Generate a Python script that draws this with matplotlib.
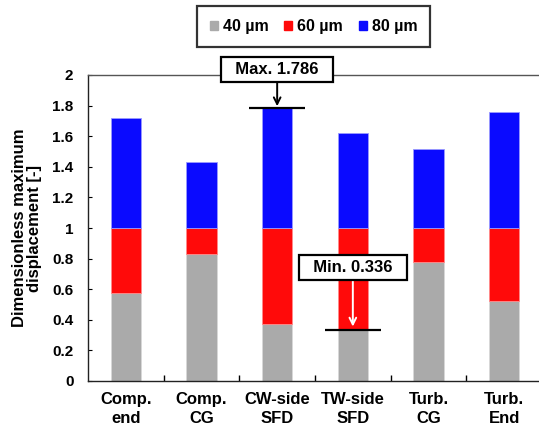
import matplotlib
matplotlib.use("Agg")
import matplotlib.pyplot as plt
from matplotlib.patches import Patch

plt.rcParams["font.family"] = ["Liberation Sans", "DejaVu Sans"]
plt.rcParams["font.weight"] = "bold"

categories = ["Comp.\nend", "Comp.\nCG", "CW-side\nSFD", "TW-side\nSFD", "Turb.\nCG", "Turb.\nEnd"]
d40 = [0.573, 0.828, 0.370, 0.336, 0.776, 0.523]   # gray part (40 um)
total = [1.717, 1.429, 1.786, 1.623, 1.514, 1.756]  # top of stack (80 um)
level60 = 1.0                                          # 60 um reference level
series_labels = ["40 µm", "60 µm", "80 µm"]
colors = ["#aaaaaa", "#ff0a0a", "#0a0aff"]
edges = ["#d8d8d8", "#ff8a8a", "#9a9aff"]

max_idx, max_val = 2, 1.786
min_idx, min_val = 3, 0.336

fig = plt.figure(figsize=(5.39, 4.29), dpi=100)
ax = fig.add_axes([88 / 539, 48 / 429, 454 / 539, 306 / 429])

x = list(range(len(categories)))
w = 0.4
red_h = [level60 - g for g in d40]
blue_h = [t - level60 for t in total]
ax.bar(x, d40, w, color=colors[0], edgecolor=edges[0], linewidth=0.6)
ax.bar(x, red_h, w, bottom=d40, color=colors[1], edgecolor=edges[1], linewidth=0.6)
ax.bar(x, blue_h, w, bottom=[level60] * len(x), color=colors[2], edgecolor=edges[2], linewidth=0.6)

ax.set_xlim(-0.5, len(categories) - 0.5)
ax.set_ylim(0, 2)
ax.set_yticks([0, 0.2, 0.4, 0.6, 0.8, 1, 1.2, 1.4, 1.6, 1.8, 2])
ax.set_yticklabels(["0", "0.2", "0.4", "0.6", "0.8", "1", "1.2", "1.4", "1.6", "1.8", "2"])
ax.set_xticks(x)
ax.set_xticklabels(categories, linespacing=1.3)
ax.set_xticks([i + 0.5 for i in x[:-1]], minor=True)
ax.tick_params(axis="x", which="major", length=0, pad=8, labelsize=12)
ax.tick_params(axis="x", which="minor", direction="in", length=4, width=1)
ax.tick_params(axis="y", direction="in", length=3, width=0.8, pad=10.5, labelsize=11)
for lab in ax.get_xticklabels() + ax.get_yticklabels():
    lab.set_fontweight("bold")

ax.spines["right"].set_visible(False)
for s in ["left", "bottom", "top"]:
    ax.spines[s].set_linewidth(1.0)
    ax.spines[s].set_color("#222222")
ax.spines["top"].set_color("#555555")

ax.set_ylabel("Dimensionless maximum\ndisplacement [-]", fontsize=12, fontweight="bold",
              labelpad=7, linespacing=1.05)

# max / min markers
ax.hlines(max_val, max_idx - 0.37, max_idx + 0.37, color="black", lw=1.6, clip_on=False, zorder=5)
ax.hlines(min_val, min_idx - 0.37, min_idx + 0.37, color="black", lw=1.6, clip_on=False, zorder=5)

box = dict(boxstyle="square,pad=0.3", fc="white", ec="black", lw=1.6)
ax.annotate(f"  Max. {max_val:.3f}  ", xy=(max_idx, max_val + 0.01), xytext=(max_idx, 2.036),
            ha="center", va="center", fontsize=12, fontweight="bold", bbox=box,
            annotation_clip=False, zorder=6,
            arrowprops=dict(arrowstyle="->", color="black", lw=1.4, shrinkA=0, shrinkB=0))
ax.annotate(f"  Min. {min_val:.3f}  ", xy=(min_idx, min_val + 0.02), xytext=(min_idx, 0.739),
            ha="center", va="center", fontsize=12, fontweight="bold", bbox=box,
            zorder=6,
            arrowprops=dict(arrowstyle="->", color="white", lw=1.4, shrinkA=0, shrinkB=0))

handles = [Patch(facecolor=c, edgecolor=c) for c in colors]
leg = fig.legend(handles, series_labels, loc="center", bbox_to_anchor=(313.5 / 539, 1 - 26.5 / 429),
                 ncol=3, frameon=True, fancybox=False, edgecolor="black",
                 handlelength=0.5, handleheight=0.5, handletextpad=0.3, columnspacing=1.0,
                 borderpad=0.8, borderaxespad=0, prop={"weight": "bold", "size": 11.5})
leg.get_frame().set_linewidth(1.6)

fig.savefig("out.png", dpi=100)
